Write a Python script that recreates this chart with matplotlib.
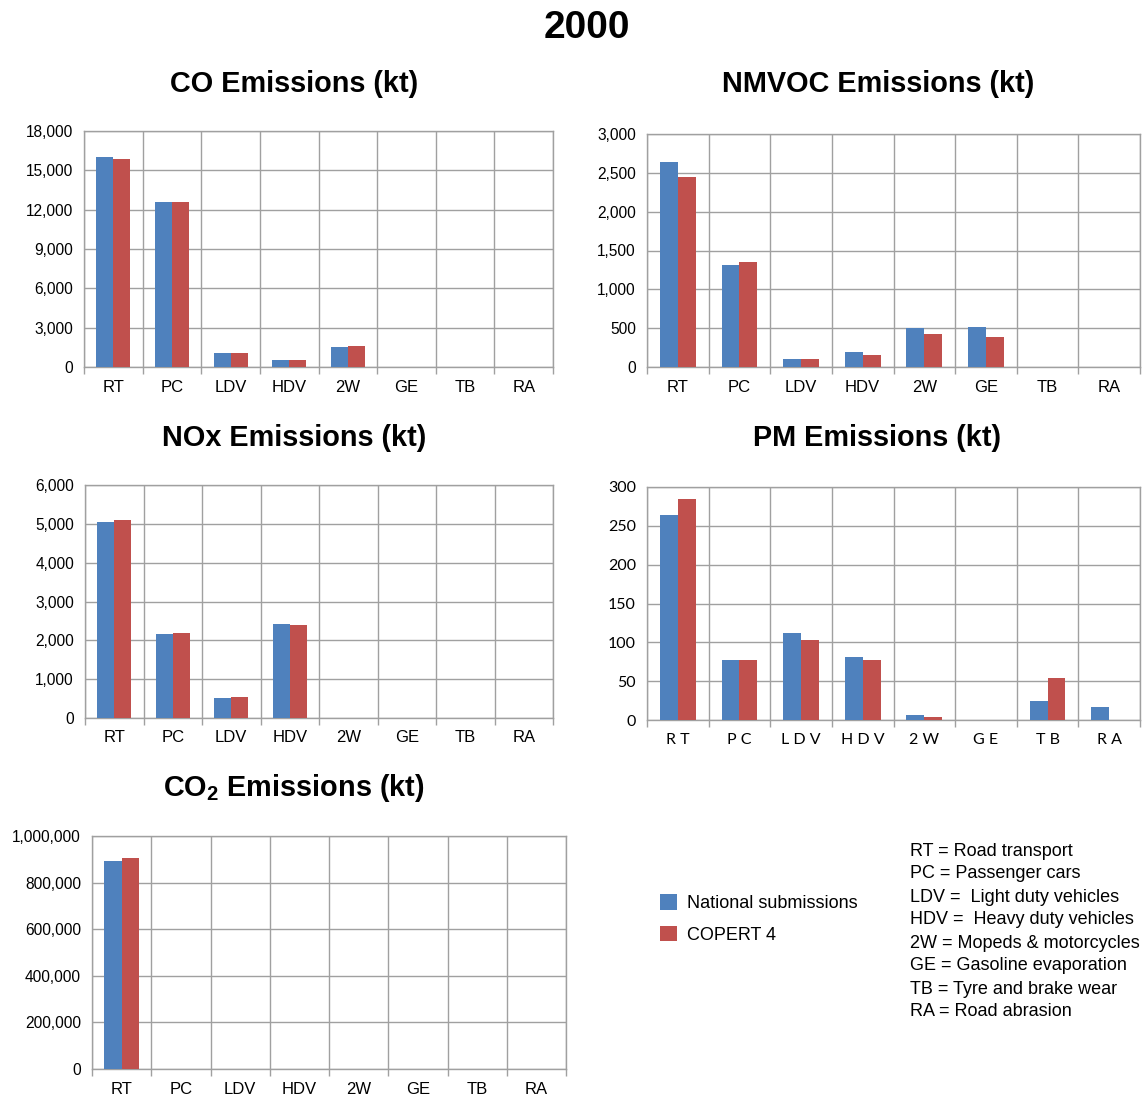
import matplotlib
matplotlib.use("Agg")
import matplotlib.pyplot as plt
from matplotlib.ticker import FuncFormatter, FixedLocator
import numpy as np

plt.rcParams['font.family'] = ['Liberation Sans', 'DejaVu Sans']
plt.rcParams['mathtext.fontset'] = 'custom'
plt.rcParams['mathtext.rm'] = 'Liberation Sans:bold'
plt.rcParams['mathtext.it'] = 'Liberation Sans:bold'
plt.rcParams['mathtext.bf'] = 'Liberation Sans:bold'

# ---------------- data ----------------
categories = ["RT", "PC", "LDV", "HDV", "2W", "GE", "TB", "RA"]
series_names = ["National submissions", "COPERT 4"]

co_national = [16000, 12600, 1100, 560, 1550, 0, 0, 0]
co_copert = [15900, 12600, 1100, 560, 1630, 0, 0, 0]

nmvoc_national = [2645, 1318, 107, 197, 506, 519, 0, 0]
nmvoc_copert = [2450, 1356, 107, 159, 429, 391, 0, 0]

nox_national = [5057, 2151, 506, 2409, 0, 0, 0, 0]
nox_copert = [5109, 2177, 531, 2383, 0, 0, 0, 0]

pm_national = [264.5, 77, 111.7, 80.9, 6.4, 0, 24.4, 16.7]
pm_copert = [285, 77, 102.7, 77, 3.9, 0, 53.9, 0]

co2_national = [893000, 0, 0, 0, 0, 0, 0, 0]
co2_copert = [906000, 0, 0, 0, 0, 0, 0, 0]

main_title = "2000"
titles = ["CO Emissions (kt)", "NMVOC Emissions (kt)", "NOx Emissions (kt)",
          "PM Emissions (kt)", "CO$_2$ Emissions (kt)"]
y_max = [18000, 3000, 6000, 300, 1000000]
y_step = [3000, 500, 1000, 50, 200000]

abbreviations = ["RT = Road transport", "PC = Passenger cars",
                 "LDV =  Light duty vehicles", "HDV =  Heavy duty vehicles",
                 "2W = Mopeds & motorcycles", "GE = Gasoline evaporation",
                 "TB = Tyre and brake wear", "RA = Road abrasion"]

# ---------------- layout ----------------
W, H = 1145, 1095
fig = plt.figure(figsize=(W / 100, H / 100), dpi=100)

BLUE = "#4F81BD"
RED = "#C0504D"
GRID = "#A0A0A0"

# (left, right, top, bottom) in pixels
boxes = [(84, 553, 131, 367), (647, 1140, 134, 367),
         (85, 553, 485, 718), (647, 1140, 487, 720),
         (92, 566, 836, 1069)]
title_pos = [(294, 84), (878, 84), (294, 438), (877, 438), (294, 788)]
data = [(co_national, co_copert), (nmvoc_national, nmvoc_copert),
        (nox_national, nox_copert), (pm_national, pm_copert),
        (co2_national, co2_copert)]

fmt = FuncFormatter(lambda v, p: f"{int(round(v)):,}")
x = np.arange(len(categories))
bw = 0.29
handles = None
for i, ((l, r, t, b), (nat, cop)) in enumerate(zip(boxes, data)):
    ax = fig.add_axes([l / W, 1 - b / H, (r - l) / W, (b - t) / H])
    h1 = ax.bar(x - bw / 2, nat, bw, color=BLUE, zorder=3, label=series_names[0])
    h2 = ax.bar(x + bw / 2, cop, bw, color=RED, zorder=3, label=series_names[1])
    if handles is None:
        handles = [h1, h2]
    ax.set_xlim(-0.5, len(categories) - 0.5)
    ax.set_ylim(0, y_max[i])
    ax.set_yticks(np.arange(0, y_max[i] + 1, y_step[i]))
    ax.yaxis.set_major_formatter(fmt)
    ax.set_xticks(x)
    pm = (i == 3)
    if pm:
        labels = [" ".join(c) for c in categories]
        ax.set_xticklabels(labels, fontsize=11.5, family=['Lato', 'DejaVu Sans'])
        for lab in ax.get_yticklabels():
            lab.set_family(['Lato', 'DejaVu Sans'])
            lab.set_fontsize(11.5)
    else:
        ax.set_xticklabels(categories, fontsize=12)
        ax.tick_params(axis='y', labelsize=11.2)
    ax.xaxis.set_minor_locator(FixedLocator(np.arange(-0.5, len(categories), 1)))
    ax.tick_params(axis='x', which='major', length=0, pad=9, colors='#000000')
    ax.tick_params(axis='x', which='minor', length=5, width=1, color=GRID)
    ax.tick_params(axis='y', length=0, pad=8, colors='#000000')
    ax.grid(True, axis='y', color=GRID, lw=1, zorder=0)
    ax.grid(True, axis='x', which='minor', color=GRID, lw=1, zorder=0)
    for s in ax.spines.values():
        s.set_color(GRID)
        s.set_linewidth(1)
    tx, ty = title_pos[i]
    fig.text(tx / W, 1 - ty / H, titles[i], ha='center', va='center',
             fontsize=20.8, fontweight='bold')

fig.text(587 / W, 1 - 28 / H, main_title, ha='center', va='center',
         fontsize=28, fontweight='bold')

fig.legend(handles, series_names, loc='upper left',
           bbox_to_anchor=(660 / W, 1 - 894 / H), frameon=False,
           fontsize=13, handlelength=0.95, handleheight=0.95,
           labelspacing=0.75, handletextpad=0.55, borderpad=0,
           borderaxespad=0)

for k, line in enumerate(abbreviations):
    fig.text(910 / W, 1 - (851 + 23 * k) / H, line, ha='left', va='center',
             fontsize=13)

fig.savefig("out.png", dpi=100, facecolor='white')
